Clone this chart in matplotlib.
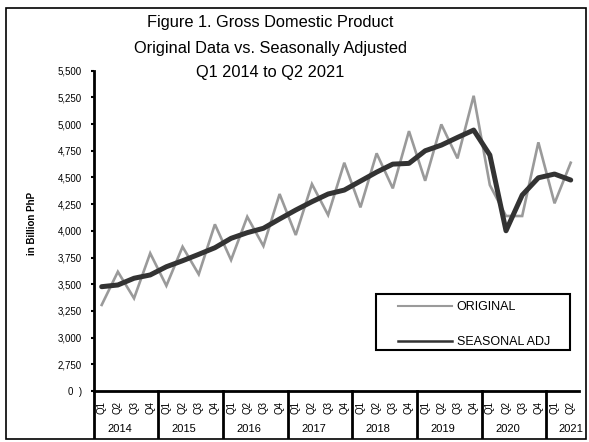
import numpy as np
import matplotlib.pyplot as plt
from matplotlib.lines import Line2D
from matplotlib.patches import Rectangle
import matplotlib.transforms as mtransforms

plt.rcParams['font.family'] = ['Liberation Sans', 'DejaVu Sans']

years = ['2014', '2015', '2016', '2017', '2018', '2019', '2020', '2021']
quarters = ['Q1', 'Q2', 'Q3', 'Q4'] * 7 + ['Q1', 'Q2']

original = [3306, 3617, 3368, 3790, 3486, 3851, 3593, 4061, 3727, 4132,
            3858, 4345, 3961, 4438, 4148, 4638, 4220, 4726, 4398, 4934,
            4469, 4997, 4679, 5265, 4429, 4139, 4139, 4829, 4258, 4638]
seasonal = [3477, 3493, 3556, 3587, 3664, 3720, 3780, 3842, 3930, 3983,
            4024, 4111, 4195, 4273, 4345, 4382, 4466, 4550, 4625, 4632,
            4750, 4803, 4875, 4944, 4710, 4001, 4335, 4497, 4532, 4476]

yticks = np.arange(2500, 5501, 250)
ytick_labels = ['0  )'] + ['{:,}'.format(v) for v in yticks[1:]]

W, H = 589, 442
fig = plt.figure(figsize=(W/100, H/100), dpi=100)
ax = fig.add_axes([93.6/W, 1-391/H, (578.8-93.6)/W, (391-70.7)/H])

x = np.arange(len(original))
ax.plot(x, original, color='#9a9a9a', lw=1.9, solid_joinstyle='miter')
ax.plot(x, seasonal, color='#333333', lw=3.6, solid_joinstyle='round', solid_capstyle='round')

ax.set_xlim(-0.5, len(x) - 0.5)
ax.set_ylim(2500, 5500)
ax.set_yticks(yticks)
ax.set_yticklabels(ytick_labels, fontsize=7)
ax.tick_params(axis='y', direction='out', length=2.5, width=1.5, pad=6)

ax.set_xticks(x)
ax.set_xticklabels(quarters, rotation=90, fontsize=7)
ax.tick_params(axis='x', length=0, pad=7)

for s in ['top', 'right']:
    ax.spines[s].set_visible(False)
ax.spines['left'].set_linewidth(2)
ax.spines['bottom'].set_linewidth(2)

# year groups below the quarters
trans = mtransforms.blended_transform_factory(ax.transData, ax.transAxes)
ybot = -(437 - 391) / (391 - 70.7)
for i, yr in enumerate(years):
    start = i * 4
    ax.plot([start - 0.5, start - 0.5], [0, ybot], color='black', lw=2,
            transform=trans, clip_on=False)
    xpos = start + 1.1 if yr != '2021' else start + 1.0
    ax.text(xpos, -0.119, yr, transform=trans, ha='center', va='center', fontsize=8)

ax.set_ylabel('in Billion PhP', fontsize=7, fontweight='bold')
ax.yaxis.set_label_coords(37/W, 1-223/H, transform=fig.transFigure)

fig.text(270/W, 1-23/H, 'Figure 1. Gross Domestic Product', ha='center', va='center', fontsize=11.8)
fig.text(270/W, 1-48/H, 'Original Data vs. Seasonally Adjusted', ha='center', va='center', fontsize=11.8)
fig.text(270/W, 1-73/H, 'Q1 2014 to Q2 2021', ha='center', va='center', fontsize=11.8)

# legend: box drawn separately so the entries can sit inset like the original
ax.add_patch(Rectangle((0.583, 0.128), 0.399, 0.175, transform=ax.transAxes,
                       fill=False, edgecolor='black', lw=1.5, clip_on=False))
handles = [Line2D([], [], color='#9a9a9a', lw=1.5),
           Line2D([], [], color='#333333', lw=1.8)]
leg = ax.legend(handles, ['ORIGINAL', 'SEASONAL ADJ'],
                bbox_to_anchor=(0.627, 0.281), loc='upper left',
                borderaxespad=0, borderpad=0, fontsize=9, handlelength=4.3,
                handletextpad=0.4, labelspacing=1.85, frameon=False)

# outer chart border
fig.patches.append(Rectangle((6/W, 1-439/H), 580/W, 431/H, fill=False,
                             edgecolor='black', lw=1.2, transform=fig.transFigure))

fig.savefig('out.png', dpi=100)
